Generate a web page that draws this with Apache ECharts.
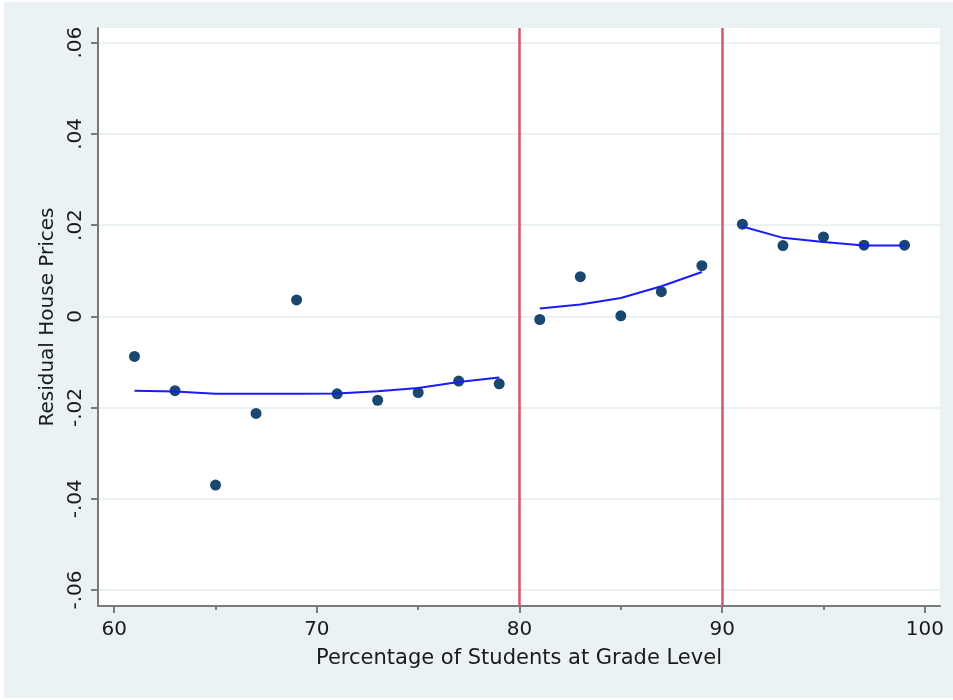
<!DOCTYPE html>
<html>
<head>
<meta charset="utf-8">
<script src="https://cdn.jsdelivr.net/npm/echarts@6/dist/echarts.min.js"></script>
<style>
  html, body { margin: 0; padding: 0; background: #ffffff; }
  #chart { width: 953px; height: 700px; }
</style>
</head>
<body>
<div id="chart"></div>
<script>
// binned percentage of students at grade level
const pctBins = [61, 63, 65, 67, 69, 71, 73, 75, 77, 79, 81, 83, 85, 87, 89, 91, 93, 95, 97, 99];
// mean residual house price in each bin
const residMeans = [-0.0088, -0.0163, -0.0370, -0.0213, 0.0036, -0.0170, -0.0184, -0.0167, -0.0142, -0.0148,
  -0.0007, 0.0087, 0.0001, 0.0054, 0.0111, 0.0202, 0.0155, 0.0174, 0.0156, 0.0156];

// fitted curves, one per segment
const fitLowX = [61, 63, 65, 67, 69, 71, 73, 75, 77, 79];
const fitLowY = [-0.0163, -0.0165, -0.0170, -0.0170, -0.0170, -0.0169, -0.0164, -0.0157, -0.0144, -0.0134];
const fitMidX = [81, 83, 85, 87, 89];
const fitMidY = [0.0017, 0.0026, 0.0040, 0.0066, 0.0097];
const fitHighX = [91, 93, 95, 97, 99];
const fitHighY = [0.0197, 0.0172, 0.0163, 0.0155, 0.0155];

const cutoffs = [80, 90];

const xMajorTicks = [60, 70, 80, 90, 100];
const xMinorTicks = [65, 75, 85, 95];
const yTicks = [-0.06, -0.04, -0.02, 0, 0.02, 0.04, 0.06];

const FONT = 'DejaVu Sans';
const zip = (xs, ys) => xs.map((x, i) => [x, ys[i]]);

function stataFmt(v) {
  if (Math.abs(v) < 1e-9) return '0';
  return (v < 0 ? '-' : '') + Math.abs(v).toFixed(2).replace(/^0/, '');
}

const chart = echarts.init(document.getElementById('chart'));

const fitLine = (data) => ({
  type: 'line',
  data: data,
  symbol: 'none',
  lineStyle: { color: '#1a1aff', width: 2 },
  z: 5,
  silent: true
});

const option = {
  backgroundColor: '#ffffff',
  animation: false,
  graphic: [{
    type: 'rect',
    shape: { x: 4, y: 2, width: 949, height: 696 },
    style: { fill: '#eaf2f3' },
    z: -10,
    silent: true
  }],
  grid: {
    left: 98, top: 28, right: 13, bottom: 94,
    show: true, backgroundColor: '#ffffff', borderWidth: 0
  },
  xAxis: [{
    type: 'value',
    min: 59.2, max: 100.75,
    name: 'Percentage of Students at Grade Level',
    nameLocation: 'middle',
    nameGap: 42,
    nameTextStyle: { fontFamily: FONT, fontSize: 21, color: '#1a1a1a' },
    axisLine: { show: true, onZero: false, lineStyle: { color: '#7a7a7a', width: 2 } },
    axisTick: { show: true, customValues: xMajorTicks, length: 7, lineStyle: { color: '#7a7a7a', width: 2 } },
    axisLabel: { customValues: xMajorTicks, margin: 14, fontFamily: FONT, fontSize: 20, color: '#1a1a1a' },
    splitLine: { show: false }
  }, {
    type: 'value',
    position: 'bottom',
    min: 59.2, max: 100.75,
    axisLine: { show: false, onZero: false },
    axisTick: { show: true, customValues: xMinorTicks, length: 4, lineStyle: { color: '#7a7a7a', width: 2 } },
    axisLabel: { show: false },
    splitLine: { show: false }
  }],
  yAxis: {
    type: 'value',
    min: -0.0635, max: 0.0632,
    name: 'Residual House Prices',
    nameLocation: 'middle',
    nameGap: 40,
    nameTextStyle: { fontFamily: FONT, fontSize: 20, color: '#1a1a1a' },
    axisLine: { show: true, onZero: false, lineStyle: { color: '#7a7a7a', width: 2 } },
    axisTick: { show: true, customValues: yTicks, length: 7, lineStyle: { color: '#7a7a7a', width: 2 } },
    axisLabel: {
      customValues: yTicks, rotate: 90, margin: 12,
      fontFamily: FONT, fontSize: 20, color: '#1a1a1a',
      formatter: stataFmt
    },
    splitLine: { show: true, lineStyle: { color: '#eaf2f3', width: 2 } }
  },
  series: [
    {
      type: 'scatter',
      data: zip(pctBins, residMeans),
      symbol: 'circle',
      symbolSize: 11,
      itemStyle: { color: '#1a476f', opacity: 1 },
      z: 3,
      markLine: {
        silent: true,
        symbol: 'none',
        label: { show: false },
        lineStyle: { color: '#d6546e', width: 2.5, type: 'solid' },
        data: cutoffs.map(c => ({ xAxis: c }))
      }
    },
    fitLine(zip(fitLowX, fitLowY)),
    fitLine(zip(fitMidX, fitMidY)),
    fitLine(zip(fitHighX, fitHighY))
  ]
};

chart.setOption(option);
</script>
</body>
</html>
